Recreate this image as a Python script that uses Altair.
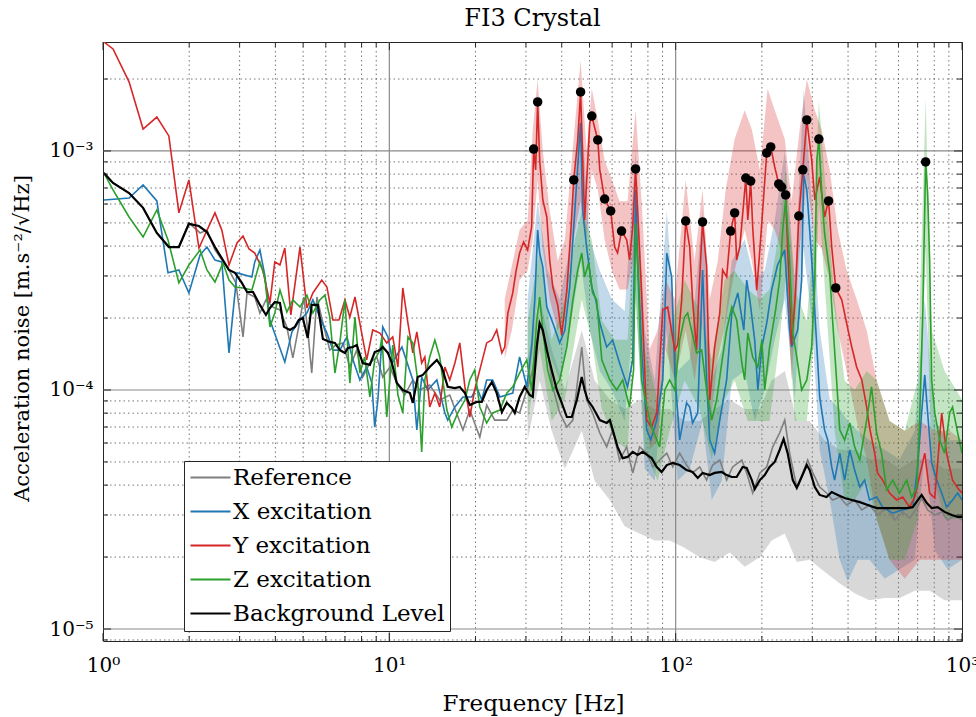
import altair as alt
import numpy as np
import pandas as pd

SERIF = "DejaVu Serif"
FRAME = "#262626"

# Spectra are stored as vertices: log10(frequency / Hz) and log10(ASD / (m.s^-2/sqrt(Hz)))

ref_lf = [0.003, 0.035, 0.091, 0.140, 0.188, 0.230, 0.265, 0.300, 0.339, 0.363,
          0.391, 0.440, 0.464, 0.489, 0.503, 0.530, 0.548, 0.569, 0.593, 0.618,
          0.642, 0.663, 0.688, 0.701, 0.715, 0.729, 0.747, 0.768, 0.792, 0.813,
          0.838, 0.862, 0.886, 0.907, 0.932, 0.956, 0.977, 1.002, 1.026, 1.054,
          1.082, 1.106, 1.141, 1.176, 1.211, 1.257, 1.281, 1.316, 1.340, 1.368,
          1.410, 1.431, 1.455, 1.480, 1.501, 1.525, 1.550, 1.571, 1.595, 1.620,
          1.641, 1.658, 1.672, 1.689, 1.710, 1.735, 1.759, 1.780, 1.804, 1.829,
          1.850, 1.874, 1.899, 1.920, 1.944, 1.969, 1.990, 2.014, 2.038, 2.059,
          2.084, 2.108, 2.129, 2.154, 2.178, 2.199, 2.231, 2.248, 2.269, 2.294,
          2.318, 2.339, 2.363, 2.381, 2.398, 2.423, 2.444, 2.461, 2.479, 2.503,
          2.527, 2.548, 2.573, 2.597, 2.625, 2.650, 2.677, 2.705, 2.737, 2.765,
          2.793, 2.817, 2.842, 2.859, 2.880, 2.905, 2.929, 2.950, 2.974, 3.000]
ref_la = [-3.092, -3.134, -3.176, -3.238, -3.343, -3.402, -3.402, -3.301, -3.343, -3.331,
          -3.414, -3.498, -3.552, -3.778, -3.594, -3.611, -3.678, -3.623, -3.653, -3.665,
          -3.736, -3.866, -3.707, -3.611, -3.749, -3.929, -3.611, -3.720, -3.833, -3.812,
          -3.803, -3.904, -3.833, -3.946, -3.887, -3.862, -3.946, -3.904, -3.971, -4.021,
          -3.958, -4.000, -3.979, -4.042, -4.021, -4.167, -4.084, -4.197, -4.063, -4.126,
          -4.126, -4.084, -4.096, -4.000, -3.916, -3.720, -3.820, -3.987, -4.096, -4.155,
          -4.126, -3.958, -3.820, -4.042, -4.096, -4.180, -4.238, -4.167, -4.293, -4.238,
          -4.347, -4.238, -4.264, -4.322, -4.293, -4.264, -4.322, -4.264, -4.314, -4.347,
          -4.322, -4.377, -4.314, -4.293, -4.377, -4.322, -4.293, -4.347, -4.431, -4.347,
          -4.322, -4.238, -4.180, -4.126, -4.264, -4.406, -4.347, -4.293, -4.347, -4.406,
          -4.431, -4.460, -4.448, -4.481, -4.460, -4.502, -4.481, -4.523, -4.494, -4.544,
          -4.510, -4.536, -4.494, -4.452, -4.502, -4.523, -4.510, -4.544, -4.523, -4.544]

xexc_lf = [0.003, 0.049, 0.091, 0.140, 0.188, 0.227, 0.265, 0.300, 0.339, 0.363,
           0.391, 0.415, 0.440, 0.468, 0.520, 0.530, 0.548, 0.565, 0.583, 0.635,
           0.660, 0.688, 0.712, 0.733, 0.757, 0.782, 0.803, 0.827, 0.852, 0.873,
           0.897, 0.921, 0.939, 0.949, 0.960, 0.977, 0.995, 1.012, 1.044, 1.082,
           1.096, 1.113, 1.134, 1.166, 1.194, 1.204, 1.229, 1.257, 1.288, 1.305,
           1.323, 1.340, 1.361, 1.386, 1.431, 1.455, 1.480, 1.497, 1.508, 1.518,
           1.525, 1.536, 1.550, 1.571, 1.595, 1.613, 1.630, 1.648, 1.668, 1.675,
           1.689, 1.707, 1.721, 1.735, 1.759, 1.780, 1.804, 1.832, 1.850, 1.860,
           1.867, 1.881, 1.899, 1.913, 1.934, 1.955, 1.969, 1.986, 1.997, 2.014,
           2.038, 2.049, 2.059, 2.077, 2.094, 2.108, 2.119, 2.136, 2.154, 2.178,
           2.196, 2.217, 2.238, 2.248, 2.259, 2.276, 2.287, 2.301, 2.318, 2.335,
           2.356, 2.381, 2.398, 2.405, 2.426, 2.440, 2.447, 2.458, 2.468, 2.479,
           2.493, 2.503, 2.520, 2.531, 2.545, 2.555, 2.573, 2.590, 2.608, 2.625,
           2.643, 2.660, 2.677, 2.702, 2.723, 2.758, 2.793, 2.828, 2.845, 2.859,
           2.870, 2.880, 2.894, 2.912, 2.929, 2.946, 2.967, 2.985, 3.000]
xexc_la = [-3.205, -3.201, -3.197, -3.142, -3.209, -3.510, -3.498, -3.594, -3.435, -3.402,
           -3.456, -3.464, -3.845, -3.510, -3.527, -3.464, -3.414, -3.519, -3.707, -3.883,
           -3.757, -3.707, -3.678, -3.623, -3.695, -3.762, -3.833, -3.833, -3.778, -3.874,
           -3.958, -3.904, -3.971, -4.155, -4.042, -3.736, -3.778, -3.883, -3.820, -3.958,
           -4.167, -3.946, -4.000, -3.958, -4.096, -4.126, -4.071, -4.029, -4.029, -3.987,
           -4.042, -3.958, -3.958, -4.029, -4.013, -3.862, -3.987, -3.820, -3.623, -3.331,
           -3.427, -3.485, -3.653, -3.720, -3.803, -3.749, -3.569, -3.247, -2.883, -3.247,
           -3.402, -3.569, -3.623, -3.720, -3.820, -3.791, -3.887, -3.987, -3.874, -3.163,
           -3.456, -3.820, -4.167, -4.209, -4.126, -3.958, -3.427, -3.527, -3.929, -4.209,
           -4.054, -4.071, -4.138, -4.096, -3.498, -3.958, -4.209, -4.264, -4.126, -3.958,
           -3.678, -3.594, -3.749, -3.540, -3.623, -3.791, -4.000, -3.820, -3.720, -3.582,
           -3.477, -3.414, -3.749, -3.820, -3.749, -3.540, -3.100, -3.163, -3.331, -3.527,
           -3.820, -4.029, -4.167, -4.209, -4.322, -4.377, -4.264, -4.377, -4.251, -4.335,
           -4.406, -4.377, -4.460, -4.448, -4.490, -4.515, -4.502, -4.490, -4.322, -4.096,
           -3.937, -4.096, -4.305, -4.377, -4.431, -4.490, -4.460, -4.431, -4.460]

yexc_lf = [0.003, 0.035, 0.091, 0.140, 0.188, 0.230, 0.265, 0.300, 0.335, 0.391,
           0.415, 0.440, 0.468, 0.489, 0.510, 0.530, 0.558, 0.583, 0.600, 0.618,
           0.635, 0.656, 0.688, 0.712, 0.733, 0.764, 0.782, 0.803, 0.824, 0.845,
           0.862, 0.880, 0.897, 0.921, 0.942, 0.967, 0.991, 1.012, 1.030, 1.047,
           1.065, 1.082, 1.096, 1.113, 1.124, 1.141, 1.159, 1.176, 1.194, 1.211,
           1.229, 1.246, 1.264, 1.281, 1.298, 1.316, 1.340, 1.358, 1.375, 1.393,
           1.403, 1.414, 1.431, 1.442, 1.455, 1.469, 1.483, 1.497, 1.504, 1.511,
           1.518, 1.525, 1.536, 1.550, 1.560, 1.571, 1.588, 1.602, 1.620, 1.634,
           1.644, 1.658, 1.668, 1.682, 1.700, 1.707, 1.728, 1.735, 1.752, 1.773,
           1.787, 1.797, 1.811, 1.829, 1.839, 1.850, 1.860, 1.867, 1.881, 1.899,
           1.916, 1.934, 1.955, 1.972, 1.997, 2.007, 2.021, 2.035, 2.049, 2.059,
           2.073, 2.080, 2.094, 2.108, 2.119, 2.136, 2.154, 2.164, 2.178, 2.192,
           2.206, 2.213, 2.224, 2.245, 2.252, 2.262, 2.269, 2.283, 2.294, 2.304,
           2.318, 2.332, 2.346, 2.360, 2.370, 2.384, 2.391, 2.405, 2.419, 2.430,
           2.444, 2.458, 2.475, 2.486, 2.503, 2.520, 2.534, 2.545, 2.559, 2.580,
           2.597, 2.615, 2.632, 2.650, 2.667, 2.677, 2.695, 2.705, 2.723, 2.747,
           2.772, 2.793, 2.817, 2.835, 2.859, 2.870, 2.887, 2.905, 2.929, 2.946,
           2.967, 2.985, 3.000]
yexc_la = [-2.544, -2.573, -2.711, -2.908, -2.858, -2.937, -3.259, -3.121, -3.406, -3.259,
           -3.331, -3.477, -3.385, -3.356, -3.410, -3.427, -3.498, -3.636, -3.464, -3.477,
           -3.406, -3.686, -3.402, -3.657, -3.594, -3.540, -3.569, -3.707, -3.707, -3.623,
           -3.695, -3.611, -3.720, -3.874, -3.749, -3.762, -3.803, -3.778, -3.904, -3.573,
           -3.720, -3.845, -3.757, -3.887, -3.862, -4.071, -4.013, -4.071, -3.904, -3.958,
           -3.887, -3.803, -3.987, -4.113, -4.000, -3.916, -3.803, -3.791, -3.749, -3.845,
           -3.820, -3.678, -3.594, -3.506, -3.427, -3.381, -3.414, -3.318, -2.992, -3.079,
           -2.795, -3.038, -3.205, -3.276, -3.456, -3.569, -3.644, -3.770, -3.582, -3.331,
           -3.121, -2.954, -2.753, -3.289, -2.883, -2.854, -2.954, -3.079, -3.201, -3.251,
           -3.402, -3.427, -3.335, -3.372, -3.456, -3.318, -3.075, -3.247, -3.594, -4.126,
           -4.155, -4.096, -3.665, -3.653, -3.833, -3.812, -3.623, -3.293, -3.402, -3.623,
           -3.833, -3.623, -3.297, -3.485, -4.042, -3.820, -3.678, -3.498, -3.527, -3.335,
           -3.259, -3.456, -3.402, -3.113, -3.289, -3.126, -3.318, -3.582, -3.414, -3.247,
           -3.008, -2.983, -3.067, -3.138, -3.151, -3.184, -3.402, -3.812, -3.582, -3.272,
           -3.079, -2.870, -3.038, -3.205, -3.109, -3.276, -3.209, -3.402, -3.573, -3.623,
           -3.720, -3.820, -3.904, -3.958, -4.071, -4.155, -4.264, -4.347, -4.377, -4.431,
           -4.460, -4.448, -4.490, -4.448, -4.322, -4.264, -4.431, -4.452, -4.096, -4.264,
           -4.377, -4.410, -4.431]

zexc_lf = [0.003, 0.035, 0.091, 0.140, 0.188, 0.227, 0.265, 0.300, 0.339, 0.363,
           0.391, 0.419, 0.440, 0.461, 0.489, 0.520, 0.537, 0.548, 0.565, 0.583,
           0.600, 0.618, 0.642, 0.663, 0.688, 0.712, 0.733, 0.757, 0.775, 0.792,
           0.810, 0.827, 0.845, 0.862, 0.880, 0.897, 0.914, 0.932, 0.949, 0.967,
           0.974, 0.991, 1.012, 1.030, 1.047, 1.065, 1.082, 1.099, 1.113, 1.124,
           1.141, 1.159, 1.176, 1.201, 1.218, 1.239, 1.264, 1.281, 1.298, 1.316,
           1.340, 1.361, 1.386, 1.410, 1.431, 1.455, 1.480, 1.497, 1.515, 1.525,
           1.536, 1.553, 1.571, 1.595, 1.620, 1.641, 1.658, 1.672, 1.682, 1.696,
           1.710, 1.724, 1.742, 1.770, 1.794, 1.815, 1.839, 1.853, 1.860, 1.867,
           1.881, 1.899, 1.916, 1.944, 1.962, 1.979, 1.997, 2.014, 2.031, 2.042,
           2.073, 2.091, 2.108, 2.126, 2.143, 2.161, 2.178, 2.196, 2.213, 2.231,
           2.241, 2.252, 2.269, 2.287, 2.301, 2.311, 2.328, 2.349, 2.363, 2.374,
           2.384, 2.398, 2.409, 2.423, 2.440, 2.458, 2.475, 2.486, 2.493, 2.500,
           2.510, 2.520, 2.538, 2.548, 2.562, 2.573, 2.590, 2.608, 2.625, 2.643,
           2.667, 2.684, 2.702, 2.719, 2.737, 2.758, 2.782, 2.807, 2.824, 2.842,
           2.852, 2.863, 2.873, 2.880, 2.887, 2.894, 2.905, 2.922, 2.939, 2.957,
           2.967, 2.985, 3.000]
zexc_la = [-3.092, -3.163, -3.276, -3.360, -3.247, -3.372, -3.552, -3.477, -3.414, -3.498,
           -3.548, -3.469, -3.540, -3.569, -3.573, -3.582, -3.510, -3.464, -3.527, -3.736,
           -3.678, -3.582, -3.674, -3.623, -3.653, -3.603, -3.678, -3.623, -3.603, -3.695,
           -3.929, -3.803, -3.623, -3.971, -3.695, -3.929, -3.862, -4.029, -3.874, -3.833,
           -3.778, -4.113, -3.812, -4.021, -4.096, -3.778, -3.803, -3.958, -4.259, -3.958,
           -3.862, -3.791, -3.862, -4.084, -4.155, -4.096, -4.042, -3.958, -3.916, -4.071,
           -4.138, -4.096, -4.084, -4.013, -3.987, -3.929, -3.874, -4.000, -3.707, -3.611,
           -3.749, -3.916, -4.000, -3.958, -3.820, -3.623, -3.498, -3.427, -3.527, -3.469,
           -3.594, -3.623, -3.874, -3.958, -4.000, -3.958, -4.071, -3.916, -3.301, -3.456,
           -3.958, -4.071, -4.155, -4.238, -4.000, -3.958, -4.000, -3.791, -3.695, -3.678,
           -3.845, -3.833, -4.000, -4.126, -4.042, -3.887, -3.749, -3.653, -3.707, -3.887,
           -3.958, -3.762, -3.862, -3.904, -3.791, -4.000, -3.820, -3.665, -3.540, -3.331,
           -3.205, -3.456, -3.762, -3.862, -4.000, -3.958, -3.820, -3.540, -3.038, -2.950,
           -3.176, -3.343, -3.510, -3.707, -3.958, -4.167, -4.209, -4.138, -4.238, -4.293,
           -4.126, -3.987, -4.180, -4.264, -4.418, -4.377, -4.431, -4.377, -4.448, -4.406,
           -4.126, -3.678, -3.046, -3.176, -3.456, -3.958, -4.096, -4.209, -4.264, -4.096,
           -4.071, -4.180, -4.264]

bg_lf = [0.003, 0.035, 0.091, 0.140, 0.188, 0.230, 0.265, 0.300, 0.335, 0.363,
         0.391, 0.440, 0.461, 0.485, 0.503, 0.524, 0.548, 0.569, 0.583, 0.600,
         0.618, 0.632, 0.653, 0.670, 0.684, 0.698, 0.715, 0.729, 0.750, 0.768,
         0.792, 0.810, 0.827, 0.845, 0.855, 0.873, 0.886, 0.907, 0.932, 0.949,
         0.967, 0.977, 0.995, 1.009, 1.026, 1.047, 1.072, 1.082, 1.099, 1.117,
         1.141, 1.166, 1.183, 1.204, 1.229, 1.246, 1.264, 1.281, 1.305, 1.323,
         1.340, 1.358, 1.375, 1.393, 1.410, 1.428, 1.438, 1.455, 1.473, 1.490,
         1.501, 1.515, 1.525, 1.536, 1.550, 1.567, 1.585, 1.602, 1.620, 1.637,
         1.655, 1.672, 1.682, 1.693, 1.710, 1.735, 1.759, 1.770, 1.780, 1.797,
         1.815, 1.832, 1.850, 1.867, 1.885, 1.916, 1.934, 1.951, 1.969, 1.990,
         2.014, 2.038, 2.059, 2.077, 2.094, 2.119, 2.136, 2.161, 2.178, 2.196,
         2.213, 2.234, 2.248, 2.266, 2.276, 2.294, 2.311, 2.328, 2.346, 2.363,
         2.377, 2.391, 2.409, 2.423, 2.440, 2.458, 2.468, 2.486, 2.503, 2.527,
         2.545, 2.566, 2.590, 2.615, 2.643, 2.671, 2.702, 2.737, 2.772, 2.807,
         2.828, 2.859, 2.877, 2.894, 2.915, 2.939, 2.964, 2.985, 3.000]
bg_la = [-3.092, -3.134, -3.176, -3.238, -3.343, -3.402, -3.402, -3.305, -3.314, -3.339,
         -3.402, -3.498, -3.510, -3.552, -3.590, -3.590, -3.644, -3.686, -3.657, -3.632,
         -3.636, -3.736, -3.749, -3.736, -3.707, -3.699, -3.782, -3.644, -3.644, -3.787,
         -3.799, -3.803, -3.833, -3.845, -3.824, -3.820, -3.812, -3.887, -3.895, -3.841,
         -3.833, -3.820, -3.845, -3.887, -3.971, -4.000, -4.013, -4.054, -3.946, -3.937,
         -3.904, -3.874, -3.904, -3.987, -3.992, -3.987, -4.013, -4.063, -4.050, -4.050,
         -4.000, -3.967, -4.013, -4.092, -4.054, -4.075, -4.096, -4.029, -3.987, -4.021,
         -4.029, -3.820, -3.720, -3.749, -3.833, -3.916, -4.000, -4.054, -4.113, -4.113,
         -4.042, -3.946, -4.000, -4.042, -4.071, -4.126, -4.138, -4.126, -4.167, -4.238,
         -4.285, -4.280, -4.259, -4.272, -4.259, -4.285, -4.322, -4.343, -4.314, -4.305,
         -4.314, -4.335, -4.343, -4.368, -4.347, -4.356, -4.347, -4.343, -4.356, -4.364,
         -4.364, -4.322, -4.326, -4.377, -4.414, -4.377, -4.356, -4.322, -4.301, -4.251,
         -4.205, -4.264, -4.377, -4.410, -4.364, -4.314, -4.335, -4.406, -4.439, -4.448,
         -4.427, -4.439, -4.452, -4.460, -4.469, -4.481, -4.494, -4.494, -4.494, -4.494,
         -4.490, -4.439, -4.473, -4.494, -4.490, -4.510, -4.523, -4.531, -4.531]

# Spread of the unsmoothed spectra (upper / lower envelope, same log10 units)
ref_band_lf = [1.483, 1.525, 1.567, 1.613, 1.672, 1.717, 1.770, 1.822, 1.874, 1.927,
               1.979, 2.031, 2.084, 2.136, 2.189, 2.241, 2.294, 2.335, 2.381, 2.423,
               2.468, 2.520, 2.573, 2.625, 2.677, 2.730, 2.782, 2.835, 2.887, 2.939,
               3.000]
ref_band_hi = [-3.87, -3.62, -3.83, -4.00, -3.75, -3.96, -4.04, -4.08, -4.04, -4.08,
               -4.08, -4.13, -4.13, -4.08, -4.04, -4.08, -4.08, -3.96, -3.92, -4.13,
               -4.13, -4.21, -4.25, -4.25, -4.29, -4.29, -4.33, -4.29, -4.29, -4.33,
               -4.33]
ref_band_lo = [-4.21, -3.96, -4.17, -4.33, -4.17, -4.38, -4.46, -4.57, -4.60, -4.63,
               -4.63, -4.66, -4.70, -4.72, -4.68, -4.74, -4.70, -4.63, -4.60, -4.72,
               -4.71, -4.76, -4.81, -4.85, -4.88, -4.87, -4.87, -4.84, -4.84, -4.88,
               -4.88]

xexc_band_lf = [1.483, 1.518, 1.553, 1.595, 1.630, 1.668, 1.700, 1.735, 1.777, 1.822,
                1.860, 1.892, 1.927, 1.969, 2.007, 2.049, 2.094, 2.126, 2.161, 2.196,
                2.241, 2.276, 2.311, 2.346, 2.381, 2.416, 2.447, 2.475, 2.503, 2.538,
                2.573, 2.601, 2.636, 2.677, 2.730, 2.782, 2.835, 2.870, 2.905, 2.950,
                3.000]
xexc_band_hi = [-3.62, -3.21, -3.50, -3.62, -3.41, -2.79, -3.37, -3.50, -3.62, -3.67,
                -3.00, -3.75, -3.96, -3.25, -3.92, -3.87, -3.25, -3.96, -3.83, -3.46,
                -3.37, -3.54, -3.50, -3.29, -3.00, -3.54, -2.74, -3.21, -3.75, -4.04,
                -4.08, -4.13, -4.17, -4.21, -4.25, -4.29, -4.17, -3.62, -4.13, -4.21,
                -4.21]
xexc_band_lo = [-4.04, -3.62, -3.83, -3.96, -3.75, -3.46, -3.75, -3.92, -4.00, -4.13,
                -3.58, -4.33, -4.38, -3.75, -4.38, -4.33, -4.13, -4.46, -4.38, -3.96,
                -3.92, -4.13, -4.00, -3.79, -3.62, -4.04, -3.41, -3.71, -4.25, -4.46,
                -4.71, -4.80, -4.71, -4.71, -4.79, -4.75, -4.71, -4.25, -4.67, -4.75,
                -4.71]

yexc_band_lf = [1.403, 1.428, 1.455, 1.483, 1.501, 1.518, 1.536, 1.560, 1.588, 1.613,
                1.637, 1.668, 1.689, 1.707, 1.728, 1.752, 1.777, 1.804, 1.832, 1.860,
                1.881, 1.909, 1.937, 1.965, 1.997, 2.035, 2.066, 2.094, 2.119, 2.147,
                2.175, 2.206, 2.241, 2.266, 2.294, 2.321, 2.346, 2.381, 2.405, 2.433,
                2.458, 2.486, 2.510, 2.538, 2.566, 2.597, 2.632, 2.667, 2.702, 2.747,
                2.800, 2.852, 2.905, 2.957, 3.000]
yexc_band_hi = [-3.62, -3.48, -3.33, -3.29, -2.91, -2.70, -3.00, -3.25, -3.46, -3.37,
                -3.04, -2.62, -3.00, -2.74, -2.87, -3.04, -3.12, -3.21, -3.21, -2.83,
                -3.21, -3.83, -3.75, -3.54, -3.62, -3.12, -3.46, -3.16, -3.62, -3.46,
                -3.16, -2.95, -2.83, -2.91, -3.08, -2.74, -2.83, -2.95, -3.21, -2.91,
                -2.70, -2.83, -2.91, -3.08, -3.33, -3.50, -3.62, -3.75, -3.96, -4.13,
                -4.17, -4.13, -4.17, -4.17, -4.21]
yexc_band_lo = [-3.87, -3.75, -3.54, -3.50, -3.37, -3.12, -3.41, -3.62, -3.75, -3.71,
                -3.41, -3.21, -3.37, -3.08, -3.16, -3.37, -3.50, -3.58, -3.58, -3.41,
                -3.75, -4.25, -4.21, -3.83, -3.96, -3.75, -3.96, -3.71, -4.17, -3.87,
                -3.71, -3.50, -3.33, -3.46, -3.67, -3.29, -3.33, -3.46, -3.96, -3.41,
                -3.12, -3.37, -3.41, -3.54, -3.75, -3.92, -4.13, -4.29, -4.54, -4.71,
                -4.79, -4.71, -4.71, -4.71, -4.71]

zexc_band_lf = [1.483, 1.525, 1.567, 1.613, 1.648, 1.672, 1.707, 1.742, 1.787, 1.832,
                1.860, 1.892, 1.937, 1.979, 2.031, 2.084, 2.126, 2.171, 2.206, 2.252,
                2.294, 2.328, 2.363, 2.384, 2.416, 2.458, 2.486, 2.500, 2.524, 2.555,
                2.590, 2.625, 2.667, 2.702, 2.747, 2.800, 2.845, 2.873, 2.894, 2.939,
                3.000]
zexc_band_hi = [-3.71, -3.41, -3.79, -3.62, -3.37, -3.25, -3.37, -3.71, -3.79, -3.79,
                -3.21, -3.83, -4.04, -3.75, -3.54, -3.67, -3.87, -3.54, -3.50, -3.58,
                -3.62, -3.58, -3.33, -3.08, -3.58, -3.71, -3.29, -2.79, -3.16, -3.62,
                -3.96, -4.00, -3.92, -3.96, -4.13, -4.17, -3.96, -2.78, -3.75, -3.92,
                -4.04]
zexc_band_lo = [-4.13, -3.83, -4.13, -4.04, -3.79, -3.62, -3.79, -4.08, -4.21, -4.25,
                -3.62, -4.25, -4.38, -4.17, -3.96, -4.08, -4.29, -4.04, -3.96, -4.13,
                -4.13, -4.13, -3.79, -3.54, -4.13, -4.13, -3.75, -3.21, -3.62, -4.17,
                -4.46, -4.46, -4.38, -4.54, -4.71, -4.71, -4.54, -3.41, -4.33, -4.54,
                -4.54]

# Identified resonance peaks
peak_lf = [1.504, 1.518, 1.644, 1.668, 1.707, 1.728, 1.752, 1.773, 1.811, 1.860,
           2.035, 2.094, 2.192, 2.206, 2.245, 2.262, 2.318, 2.332, 2.360, 2.370,
           2.384, 2.430, 2.444, 2.458, 2.500, 2.534, 2.559, 2.873]
peak_la = [-2.992, -2.795, -3.121, -2.753, -2.854, -2.954, -3.201, -3.251, -3.335, -3.075,
           -3.293, -3.297, -3.335, -3.259, -3.113, -3.126, -3.008, -2.983, -3.138, -3.151,
           -3.184, -3.272, -3.079, -2.870, -2.950, -3.209, -3.573, -3.046]

SERIES = ["Reference", "X excitation", "Y excitation", "Z excitation", "Background Level"]
COLORS = ["#7f7f7f", "#1f77b4", "#d62728", "#2ca02c", "#000000"]

# Axis grid / tick positions
decade_f = [10, 100]
minor_f = [m * d for d in (1, 10, 100) for m in range(2, 10)]
decade_a = [1e-5, 1e-4, 1e-3]
minor_a = [9e-6] + [m * d for d in (1e-5, 1e-4) for m in range(2, 10)] + [2e-3]
tick_f = [1, 10, 100, 1000]


def curve(name, lf, la):
    return pd.DataFrame({
        "f": np.power(10.0, np.asarray(lf)),
        "a": np.power(10.0, np.asarray(la)),
        "series": name,
        "i": np.arange(len(lf)),
    })


def spread(lf, hi, lo):
    return pd.DataFrame({
        "f": np.power(10.0, np.asarray(lf)),
        "hi": np.power(10.0, np.asarray(hi)),
        "lo": np.power(10.0, np.asarray(lo)),
    })


x_scale = alt.Scale(type="log", domain=[1, 1000], nice=False)
y_scale = alt.Scale(type="log", domain=[8.91e-6, 2.857e-3], nice=False)

x_axis = alt.Axis(
    values=tick_f,
    labelExpr="datum.value < 2 ? '10⁰' : datum.value < 20 ? '10¹' : datum.value < 200 ? '10²' : '10³'",
    grid=False, ticks=False, domain=False, labelFlush=False, labelOverlap=False,
    labelFont=SERIF, labelFontSize=20, labelColor="black", labelPadding=14,
    title="Frequency [Hz]", titleFont=SERIF, titleFontSize=23, titleFontWeight="normal",
    titleColor="black", titleX=430, titleY=62, titleAlign="center", titleBaseline="middle",
)
y_axis = alt.Axis(
    values=decade_a,
    labelExpr="datum.value < 3e-5 ? '10⁻⁵' : datum.value < 3e-4 ? '10⁻⁴' : '10⁻³'",
    grid=False, ticks=False, domain=False, labelFlush=False, labelOverlap=False,
    labelFont=SERIF, labelFontSize=20, labelColor="black", labelPadding=10,
    title="Acceleration noise [m.s⁻²/√Hz]", titleFont=SERIF, titleFontSize=21,
    titleFontWeight="normal", titleColor="black", titleX=-81, titleY=296,
    titleAngle=270, titleAlign="center", titleBaseline="middle",
)


def X(field):
    return alt.X(field, type="quantitative", scale=x_scale, axis=x_axis)


def Y(field):
    return alt.Y(field, type="quantitative", scale=y_scale, axis=y_axis)


legend = alt.Legend(
    orient="none", legendX=81, legendY=419, title=None,
    symbolType="M-2,0L2,0", symbolSize=400, symbolStrokeWidth=2, symbolOffset=10,
    labelFont=SERIF, labelFontSize=23, labelColor="black", labelOffset=11, labelLimit=500,
    padding=5, rowPadding=10, strokeColor=FRAME, fillColor="white",
)
color = alt.Color("series:N", scale=alt.Scale(domain=SERIES, range=COLORS), legend=legend)

layers = []

# dotted minor grid and solid decade grid
layers.append(alt.Chart(pd.DataFrame({"f": minor_f})).mark_rule(
    color="#3a3a3a", strokeWidth=1, strokeDash=[1.5, 3], opacity=0.7).encode(x=X("f")))
layers.append(alt.Chart(pd.DataFrame({"a": minor_a})).mark_rule(
    color="#3a3a3a", strokeWidth=1, strokeDash=[1.5, 3], opacity=0.7).encode(y=Y("a")))
layers.append(alt.Chart(pd.DataFrame({"f": decade_f})).mark_rule(
    color="#8a8a8a", strokeWidth=1.2).encode(x=X("f")))
layers.append(alt.Chart(pd.DataFrame({"a": decade_a})).mark_rule(
    color="#8a8a8a", strokeWidth=1.2).encode(y=Y("a")))

# raw-spectrum spread
bands = [
    (ref_band_lf, ref_band_hi, ref_band_lo, COLORS[0], 0.3),
    (xexc_band_lf, xexc_band_hi, xexc_band_lo, COLORS[1], 0.28),
    (yexc_band_lf, yexc_band_hi, yexc_band_lo, COLORS[2], 0.28),
    (zexc_band_lf, zexc_band_hi, zexc_band_lo, COLORS[3], 0.28),
]
for lf, hi, lo, c, op in bands:
    layers.append(alt.Chart(spread(lf, hi, lo)).mark_area(color=c, opacity=op, clip=True).encode(
        x=X("f"), y=Y("hi"), y2=alt.Y2("lo")))

# smoothed spectra
curves = [
    (SERIES[0], ref_lf, ref_la, 1.6),
    (SERIES[1], xexc_lf, xexc_la, 1.6),
    (SERIES[2], yexc_lf, yexc_la, 1.6),
    (SERIES[3], zexc_lf, zexc_la, 1.6),
    (SERIES[4], bg_lf, bg_la, 2.2),
]
for name, lf, la, w in curves:
    layers.append(alt.Chart(curve(name, lf, la)).mark_line(strokeWidth=w, clip=True).encode(
        x=X("f"), y=Y("a"), color=color, order=alt.Order("i:Q")))

# resonance markers
layers.append(alt.Chart(curve("peaks", peak_lf, peak_la)).mark_circle(
    size=90, color="black", opacity=1, clip=True).encode(x=X("f"), y=Y("a")))

# inward ticks on all four sides of the frame
W, H = 859, 599
for vals, ln in ((tick_f, 8), (minor_f, 5)):
    df = pd.DataFrame({"f": vals})
    layers.append(alt.Chart(df).mark_rule(color=FRAME).encode(
        x=X("f"), y=alt.value(H - ln), y2=alt.value(H)))
    layers.append(alt.Chart(df).mark_rule(color=FRAME).encode(
        x=X("f"), y=alt.value(0), y2=alt.value(ln)))
for vals, ln in ((decade_a, 8), (minor_a, 5)):
    df = pd.DataFrame({"a": vals})
    layers.append(alt.Chart(df).mark_rule(color=FRAME).encode(
        y=Y("a"), x=alt.value(0), x2=alt.value(ln)))
    layers.append(alt.Chart(df).mark_rule(color=FRAME).encode(
        y=Y("a"), x=alt.value(W - ln), x2=alt.value(W)))

chart = alt.layer(*layers).properties(
    width=W, height=H,
    autosize="none",
    padding={"left": 103, "top": 42, "right": 14, "bottom": 76},
    title=alt.Title("FI3 Crystal", font=SERIF, fontSize=24, fontWeight="normal",
                    color="black", anchor="middle", offset=10),
    background="white",
).configure_view(stroke=FRAME, strokeWidth=1)

chart.save("out.html", embed_options={"renderer": "svg", "actions": False})
